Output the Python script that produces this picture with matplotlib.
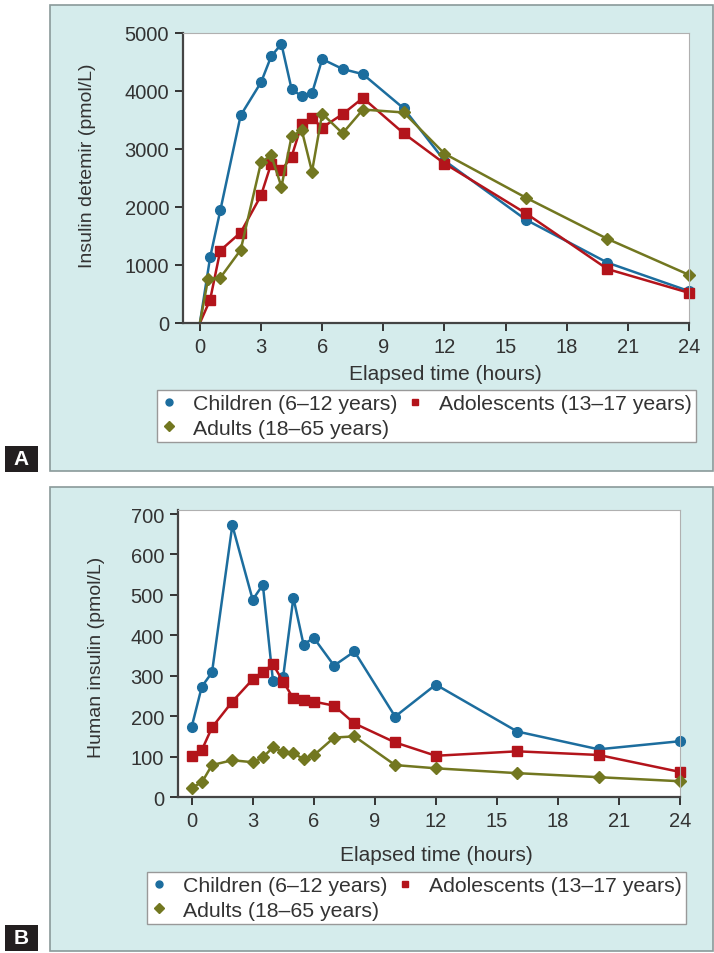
import numpy as np
import matplotlib
matplotlib.use("Agg")
import matplotlib.pyplot as plt
from matplotlib.patches import Rectangle

plt.rcParams['font.family'] = ['Liberation Sans', 'DejaVu Sans']

# Panel A: insulin detemir
a_child_t = [0, 0.5, 1, 2, 3, 3.5, 4, 4.5, 5, 5.5, 6, 7, 8, 10, 12, 16, 20, 24]
a_child = [0, 1130, 1940, 3580, 4150, 4600, 4810, 4030, 3910, 3960, 4550, 4380, 4290, 3700, 2800, 1780, 1040, 550]
a_adol_t = [0, 0.5, 1, 2, 3, 3.5, 4, 4.5, 5, 5.5, 6, 7, 8, 10, 12, 16, 20, 24]
a_adol = [0, 400, 1250, 1560, 2200, 2750, 2630, 2870, 3430, 3530, 3370, 3600, 3880, 3270, 2750, 1890, 930, 520]
a_adult_t = [0, 0.4, 1, 2, 3, 3.5, 4, 4.5, 5, 5.5, 6, 7, 8, 10, 12, 16, 20, 24]
a_adult = [0, 760, 780, 1260, 2770, 2890, 2350, 3220, 3320, 2610, 3610, 3270, 3680, 3630, 2920, 2160, 1450, 830]

# Panel B: human insulin
b_t = [0, 0.5, 1, 2, 3, 3.5, 4, 4.5, 5, 5.5, 6, 7, 8, 10, 12, 16, 20, 24]
b_child = [173, 273, 308, 672, 488, 525, 286, 298, 493, 377, 394, 325, 360, 199, 278, 162, 118, 138]
b_adol = [101, 116, 172, 236, 291, 310, 328, 285, 244, 241, 236, 226, 182, 135, 102, 113, 104, 62]
b_adult = [23, 36, 79, 91, 86, 98, 123, 111, 108, 94, 103, 147, 150, 79, 71, 59, 49, 39]

labels = ["Children (6\u201312 years)", "Adolescents (13\u201317 years)", "Adults (18\u201365 years)"]
colors = ["#1c6d9e", "#b3141b", "#727720"]
markers = ["o", "s", "D"]
msizes = [7, 6.5, 6.5]

W, H = 714, 954
fig = plt.figure(figsize=(W / 100, H / 100), dpi=100)


def px(x0, y0, x1, y1):
    # pixel box -> figure fraction rect
    return [x0 / W, 1 - y1 / H, (x1 - x0) / W, (y1 - y0) / H]


# panel backgrounds
for box in [(50, 6, 713, 472), (50, 488, 713, 952)]:
    r = px(*box)
    fig.patches.append(Rectangle(r[:2], r[2], r[3], transform=fig.transFigure,
                                 facecolor="#d5ecec", edgecolor="#8a9a9a", lw=1.2, zorder=-5))
for box, lab in [((5, 447, 38, 473), "A"), ((5, 926, 38, 952), "B")]:
    r = px(*box)
    fig.patches.append(Rectangle(r[:2], r[2], r[3], transform=fig.transFigure,
                                 facecolor="#231f20", edgecolor="none", zorder=-4))
    fig.text(r[0] + r[2] / 2, r[1] + r[3] / 2, lab, color="white", fontsize=15, fontweight="bold",
             ha="center", va="center")


def style_ax(ax):
    for s in ["top", "right"]:
        ax.spines[s].set_color("#b0b0b0")
        ax.spines[s].set_linewidth(0.8)
    for s in ["left", "bottom"]:
        ax.spines[s].set_color("#444444")
        ax.spines[s].set_linewidth(1.6)
    ax.tick_params(direction="out", length=6, width=1.4, color="#333333", labelsize=14.5,
                   labelcolor="#333333", pad=4)
    ax.set_xticks(np.arange(0, 25, 3))


def draw(ax, series, skip_first=False):
    handles = []
    for (t, y), c, m, ms in zip(series, colors, markers, msizes):
        me = list(range(1, len(t))) if skip_first else None
        h, = ax.plot(t, y, color=c, marker=m, ms=ms, lw=1.8, clip_on=False, markevery=me)
        handles.append(h)
    return handles


axA = fig.add_axes(px(183, 34, 689, 324))
hA = draw(axA, [(a_child_t, a_child), (a_adol_t, a_adol), (a_adult_t, a_adult)], skip_first=True)
axA.set_xlim(-0.83, 24)
axA.set_ylim(0, 5000)
axA.set_yticks(np.arange(0, 5001, 1000))
style_ax(axA)

axB = fig.add_axes(px(178, 511, 680, 798))
hB = draw(axB, [(b_t, b_child), (b_t, b_adol), (b_t, b_adult)])
axB.set_xlim(-0.67, 24)
axB.set_ylim(0, 710)
axB.set_yticks(np.arange(0, 701, 100))
style_ax(axB)

fig.text(88 / W, 1 - 166 / H, "Insulin detemir (pmol/L)", rotation=90, ha="center", va="center",
         fontsize=14, color="#333333")
fig.text(445 / W, 1 - 375 / H, "Elapsed time (hours)", ha="center", va="center", fontsize=15, color="#333333")
fig.text(97 / W, 1 - 657 / H, "Human insulin (pmol/L)", rotation=90, ha="center", va="center",
         fontsize=14, color="#333333")
fig.text(436 / W, 1 - 856 / H, "Elapsed time (hours)", ha="center", va="center", fontsize=15, color="#333333")

# legends (row-major order: Children, Adolescents / Adults)
for hs, (lx, ly) in [(hA, (157, 391)), (hB, (147, 873))]:
    order = [0, 2, 1]
    proxies = [plt.Line2D([], [], color=colors[i], marker=markers[i], ls="none", ms=5) for i in order]
    leg = fig.legend(proxies, [labels[i] for i in order], ncol=2, loc="upper left",
                     bbox_to_anchor=(lx / W, 1 - ly / H), fontsize=15.3, frameon=True, fancybox=False,
                     edgecolor="#999999", framealpha=1, handlelength=0.7, handletextpad=0.8,
                     columnspacing=0.45, borderpad=0.2, labelspacing=0.25, borderaxespad=0)
    leg.get_frame().set_linewidth(1.0)
    for t in leg.get_texts():
        t.set_color("#333333")

fig.savefig("out.png", dpi=100)
